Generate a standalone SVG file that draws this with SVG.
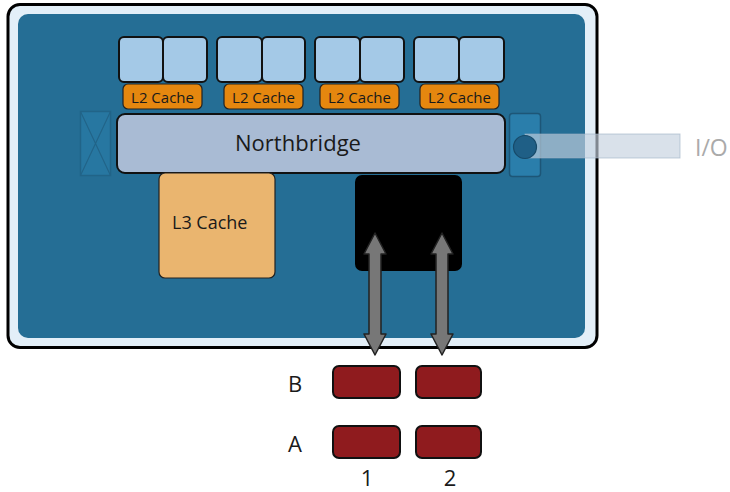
<svg xmlns="http://www.w3.org/2000/svg" width="730" height="492" viewBox="0 0 730 492">
<defs>
<style>
.core{fill:#a4c9e7;stroke:#111;stroke-width:2}
.l2{fill:#e5870f;stroke:#222;stroke-width:1.2}
.l2t{font-family:"Open Sans","Liberation Sans",sans-serif;font-size:15px;fill:#1a1a1a;text-anchor:middle}
.lbl{font-family:"Open Sans","Liberation Sans",sans-serif;font-size:22px;fill:#1a1a1a;text-anchor:middle}
.dimm{fill:#8f1b1e;stroke:#111;stroke-width:2}
.arr{fill:#777;stroke:#222;stroke-width:1.5;stroke-linejoin:round}
</style>
</defs>
<rect width="730" height="492" fill="#fff"/>
<g id="chip">
<rect x="8" y="4.5" width="589" height="343" rx="12" fill="#e3eff8" stroke="#000" stroke-width="3"/>
<rect x="18" y="14" width="567" height="324" rx="10" fill="#256e95"/>
</g>
<g id="cores">
<rect class="core" x="119" y="37" width="44" height="45" rx="5"/>
<rect class="core" x="163" y="37" width="44" height="45" rx="5"/>
<rect class="core" x="217" y="37" width="45" height="45" rx="5"/>
<rect class="core" x="262" y="37" width="43" height="45" rx="5"/>
<rect class="core" x="315" y="37" width="45" height="45" rx="5"/>
<rect class="core" x="360" y="37" width="44" height="45" rx="5"/>
<rect class="core" x="414" y="37" width="45" height="45" rx="5"/>
<rect class="core" x="459" y="37" width="45" height="45" rx="5"/>
</g>
<g id="l2caches">
<rect class="l2" x="123" y="84" width="79" height="25" rx="5"/>
<text class="l2t" x="162.5" y="102.5">L2 Cache</text>
<rect class="l2" x="224" y="84" width="79" height="25" rx="5"/>
<text class="l2t" x="263.5" y="102.5">L2 Cache</text>
<rect class="l2" x="320" y="84" width="79" height="25" rx="5"/>
<text class="l2t" x="359.5" y="102.5">L2 Cache</text>
<rect class="l2" x="420" y="84" width="79" height="25" rx="5"/>
<text class="l2t" x="459.5" y="102.5">L2 Cache</text>
</g>
<g id="left-port" opacity="0.4">
<rect x="80.5" y="111.5" width="30" height="64" fill="#2b86b5" stroke="#1d5677" stroke-width="1.5"/>
<path d="M80.5 111.5 L110.5 175.5 M110.5 111.5 L80.5 175.5" stroke="#1d5677" stroke-width="1.2" fill="none"/>
</g>
<g id="northbridge">
<rect x="117" y="114" width="388" height="59" rx="8" fill="#a9bbd4" stroke="#111" stroke-width="2"/>
<text class="lbl" x="298" y="151" font-size="20">Northbridge</text>
</g>
<g id="io">
<rect x="509.5" y="113.5" width="31" height="63" rx="3" fill="#2a7eab" stroke="#1d5677" stroke-width="1.5"/>
<rect x="525" y="134" width="155" height="24" fill="#c5d1df" fill-opacity="0.65" stroke="#9fb0c4" stroke-opacity="0.6" stroke-width="1"/>
<circle cx="525" cy="147" r="11.5" fill="#1f5f86" stroke="#174a69" stroke-width="1.2"/>
<text x="695" y="156" font-family="Open Sans,Liberation Sans,sans-serif" font-size="23" fill="#aaa">I/O</text>
</g>
<g id="l3">
<rect x="159" y="173" width="116" height="105" rx="6" fill="#eab56f" stroke="#222" stroke-width="1.2"/>
<text x="172" y="229" font-family="Open Sans,Liberation Sans,sans-serif" font-size="18" fill="#1a1a1a">L3 Cache</text>
</g>
<g id="memctrl">
<rect x="355" y="175" width="107" height="96" rx="7" fill="#000"/>
</g>
<g id="connectors">
<path class="arr" d="M375 233 L386 254 L381 254 L381 334 L386 334 L375 355 L364 334 L369 334 L369 254 L364 254 Z"/>
<path class="arr" d="M442 233 L453 254 L448 254 L448 334 L453 334 L442 355 L431 334 L436 334 L436 254 L431 254 Z"/>
</g>
<g id="dimms">
<rect class="dimm" x="333" y="366" width="67" height="32" rx="6"/>
<rect class="dimm" x="416" y="366" width="65" height="32" rx="6"/>
<rect class="dimm" x="333" y="426" width="67" height="32" rx="6"/>
<rect class="dimm" x="416" y="426" width="65" height="32" rx="6"/>
</g>
<g id="labels">
<text class="lbl" x="295" y="392">B</text>
<text class="lbl" x="295" y="452">A</text>
<text class="lbl" x="367" y="486">1</text>
<text class="lbl" x="450" y="486">2</text>
</g>
</svg>
